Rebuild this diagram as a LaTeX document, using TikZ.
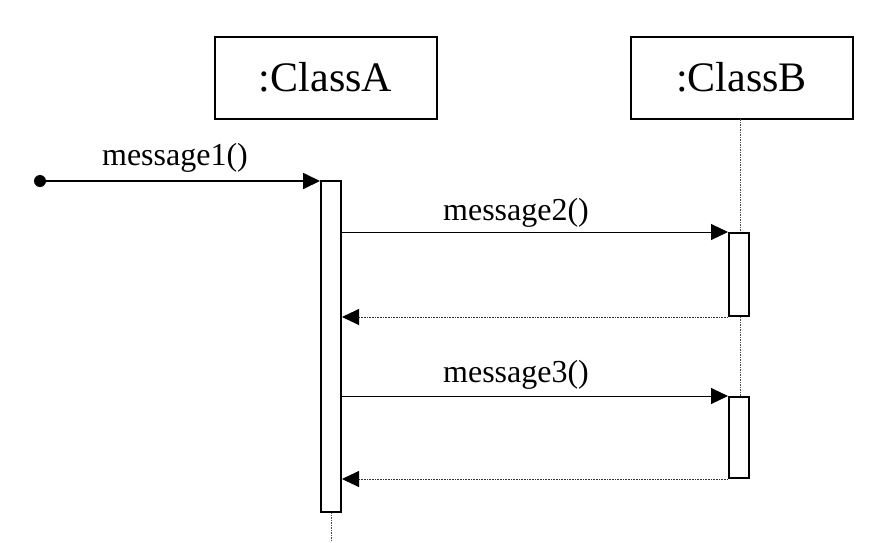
\documentclass[tikz,border=0pt]{standalone}
\usepackage{fontspec}
\setmainfont{Liberation Serif}
\usetikzlibrary{arrows.meta}
\begin{document}
\begin{tikzpicture}[x=1pt,y=-1pt,
  classbox/.style={draw,line width=2pt,minimum width=222pt,minimum height=82pt,inner sep=0pt,font=\fontsize{42}{42}\selectfont},
  actbox/.style={draw,line width=2pt,minimum width=20pt,inner sep=0pt,fill=white},
  lifeline/.style={draw=black!70,line width=0.7pt,dash pattern=on 1.5pt off 1pt},
  tip/.style={-{Triangle[length=17pt,width=16pt,color=black]}},
  msg/.style={tip,line width=1pt},
  retmsg/.style={tip,draw=black!80,line width=0.9pt,dash pattern=on 1pt off 0.6pt},
  lbl/.style={font=\fontsize{32}{32}\selectfont,inner sep=0pt}]
\useasboundingbox (0,0) rectangle (869,542);
\node[classbox] (ca) at (325.5,77.5) {:ClassA};
\node[classbox] (cb) at (741.5,77.5) {:ClassB};
\coordinate (aend) at (331,542);
\draw[lifeline] (740,119) -- (740,478);
\draw[lifeline] (331,512) -- (aend);
\node[actbox,minimum height=331pt] (aa) at (331,346.5) {};
\node[actbox,minimum height=83pt] (b1) at (739,274.5) {};
\node[actbox,minimum height=81pt] (b2) at (739,437.5) {};
\node[circle,fill=black,inner sep=0pt,minimum size=12pt] (dot) at (40,181) {};
\draw[msg,line width=1.8pt] (dot.center) -- (dot -| aa.west);
\node[lbl] at (175,158) {message1()};
\draw[msg] (aa.east |- b1.north) -- (b1.north west);
\node[lbl] at (516,213) {message2()};
\draw[retmsg] (b1.south west) -- (aa.east |- b1.south);
\draw[msg] (aa.east |- b2.north) -- (b2.north west);
\node[lbl] at (516,375) {message3()};
\draw[retmsg] (b2.south west) -- (aa.east |- b2.south);
\end{tikzpicture}
\end{document}
